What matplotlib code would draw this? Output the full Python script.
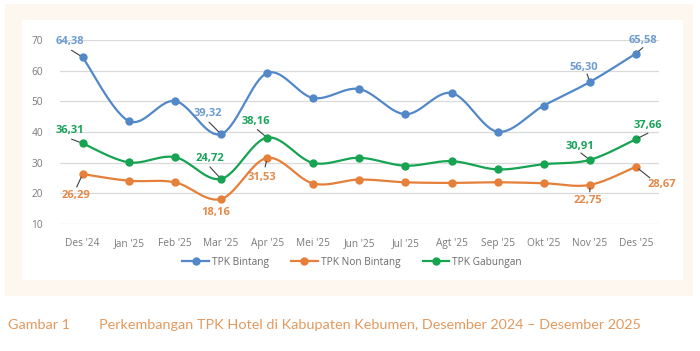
import numpy as np
import matplotlib
matplotlib.use("Agg")
import matplotlib.pyplot as plt
from matplotlib.patches import Rectangle

months = ["Des '24", "Jan '25", "Feb '25", "Mar '25", "Apr '25", "Mei '25", "Jun '25",
          "Jul '25", "Agt '25", "Sep '25", "Okt '25", "Nov '25", "Des '25"]
bintang = [64.38, 43.6, 50.1, 39.32, 59.2, 51.1, 54.0, 45.8, 52.7, 40.1, 48.6, 56.30, 65.58]
non_bintang = [26.29, 24.1, 23.6, 18.16, 31.53, 23.2, 24.5, 23.6, 23.4, 23.6, 23.3, 22.75, 28.67]
gabungan = [36.31, 30.1, 31.8, 24.72, 38.16, 29.9, 31.6, 29.0, 30.5, 27.8, 29.5, 30.91, 37.66]
yticks = [10, 20, 30, 40, 50, 60, 70]

C_BLUE = "#5288c8"
C_ORANGE = "#e57f3a"
C_GREEN = "#16a352"
L_BLUE = "#6d9cd1"
L_ORANGE = "#e58a4a"
L_GREEN = "#1aa35a"

W, H = 700, 351
fig = plt.figure(figsize=(W / 100, H / 100), dpi=100, facecolor="white")

def px_rect(x0, y0, x1, y1, color):
    fig.patches.append(Rectangle((x0 / W, 1 - y1 / H), (x1 - x0) / W, (y1 - y0) / H,
                                 transform=fig.transFigure, facecolor=color,
                                 edgecolor="none", zorder=-10))

px_rect(5, 4, 693, 296, "#fdf7f0")
px_rect(22, 20, 683, 280, "white")

ax = fig.add_axes([59.6 / W, 1 - 224 / H, 599.4 / W, 184 / H])
ax.set_facecolor("none")
ax.set_xlim(-0.5, len(months) - 0.5)
ax.set_ylim(10, 70)

def smooth(y, n=30):
    x = np.arange(len(y), dtype=float)
    y = np.asarray(y, dtype=float)
    P = np.column_stack([x, y])
    xs, ys = [], []
    for i in range(len(P) - 1):
        p0 = P[i - 1] if i > 0 else P[i]
        p1 = P[i]
        p2 = P[i + 1]
        p3 = P[i + 2] if i + 2 < len(P) else P[i + 1]
        c1 = p1 + (p2 - p0) / 6
        c2 = p2 - (p3 - p1) / 6
        t = np.linspace(0, 1, n)[:, None]
        B = (1 - t) ** 3 * p1 + 3 * (1 - t) ** 2 * t * c1 + 3 * (1 - t) * t ** 2 * c2 + t ** 3 * p2
        xs.append(B[:, 0]); ys.append(B[:, 1])
    return np.concatenate(xs), np.concatenate(ys)

for yv in yticks:
    ax.axhline(yv, color="#d9d9d9", lw=0.9, zorder=0)

series = [(bintang, C_BLUE, "TPK Bintang"), (non_bintang, C_ORANGE, "TPK Non Bintang"),
          (gabungan, C_GREEN, "TPK Gabungan")]
handles = []
for vals, col, lab in series:
    sx, sy = smooth(vals)
    ax.plot(sx, sy, color=col, lw=1.6, zorder=2, solid_capstyle="round")
    ax.plot(range(len(vals)), vals, "o", color=col, ms=5, zorder=3)
    h, = ax.plot([], [], color=col, lw=1.6, marker="o", ms=5, label=lab)
    handles.append(h)

for s in ax.spines.values():
    s.set_visible(False)
ax.set_xticks(range(len(months)))
ax.set_xticklabels(months)
ax.set_yticks(yticks)
ax.tick_params(length=0, colors="#7a7a7a", labelsize=7.3)
ax.tick_params(axis="x", pad=10)
ax.tick_params(axis="y", pad=12)
for t in ax.get_xticklabels() + ax.get_yticklabels():
    t.set_fontfamily("Open Sans")

def fmt(v):
    return f"{v:.2f}".replace(".", ",")

# (series, index, text offset pts, leader start offset pts or None, color)
labels = [
    (bintang, 0, (-9.4, 11.5), (-8, 5), L_BLUE),
    (bintang, 3, (-9.4, 15), (-8.6, 8.6), L_BLUE),
    (bintang, 11, (-4.3, 10.8), (-2, 5.8), L_BLUE),
    (bintang, 12, (5, 9.4), (5, 4.3), L_BLUE),
    (gabungan, 0, (-9.4, 9.4), (-8, 3), L_GREEN),
    (gabungan, 3, (-8, 14.4), (-8, 8.6), L_GREEN),
    (gabungan, 4, (-8, 11.5), (-7, 5.8), L_GREEN),
    (gabungan, 11, (-7.2, 9.4), (-6.5, 5), L_GREEN),
    (gabungan, 12, (8.6, 10), (8.6, 4.3), L_GREEN),
    (non_bintang, 0, (-5, -15.8), (-4.3, -9.4), L_ORANGE),
    (non_bintang, 3, (-3.6, -9.8), None, L_ORANGE),
    (non_bintang, 4, (-3.6, -13.7), (-1.4, -6.5), L_ORANGE),
    (non_bintang, 11, (-1.4, -11.5), (0, -5), L_ORANGE),
    (non_bintang, 12, (18.7, -13), (10, -8), L_ORANGE),
]
for vals, i, (dx, dy), lead, col in labels:
    ax.annotate(fmt(vals[i]), xy=(i, vals[i]), xytext=(dx, dy), textcoords="offset points",
                ha="center", va="center", color=col, fontsize=8, fontweight="bold",
                fontfamily="Open Sans", zorder=5)
    if lead is not None:
        ax.annotate("", xy=(i, vals[i]), xytext=lead, textcoords="offset points",
                    arrowprops=dict(arrowstyle="-", color="#404040", lw=0.8,
                                    shrinkA=0, shrinkB=2.5), zorder=4)

leg = fig.legend(handles=handles, loc="center", bbox_to_anchor=(352 / W, 1 - 262 / H),
                 ncol=3, frameon=False, handlelength=2.6, columnspacing=2.2,
                 handletextpad=0.3, prop={"family": "Open Sans", "size": 7.3})
for t in leg.get_texts():
    t.set_color("#6a6a6a")

cap_col = "#e3995e"
fig.text(8 / W, 1 - 325 / H, "Gambar 1", fontsize=10.4, color=cap_col, fontfamily="Lato",
         va="center", ha="left")
fig.text(99 / W, 1 - 325 / H,
         "Perkembangan TPK Hotel di Kabupaten Kebumen, Desember 2024 \u2013 Desember 2025",
         fontsize=10.4, color=cap_col, fontfamily="Lato", va="center", ha="left")

fig.savefig("out.png", dpi=100, facecolor="white")
